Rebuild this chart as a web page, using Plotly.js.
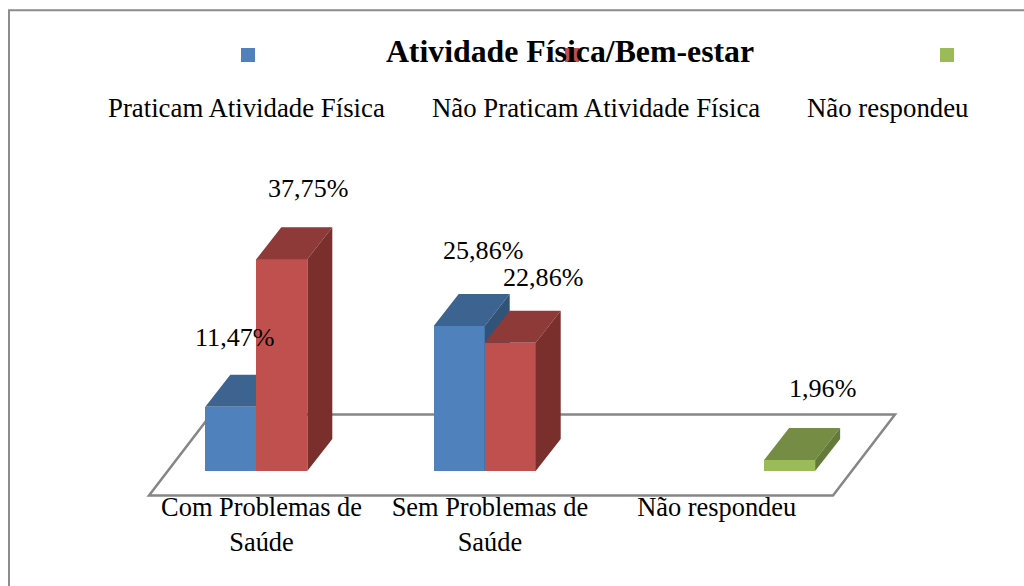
<!DOCTYPE html>
<html><head><meta charset="utf-8">
<script src="https://cdn.plot.ly/plotly-3.0.1.min.js"></script>
<style>html,body{margin:0;padding:0;background:#fff}#c{width:1024px;height:586px}</style>
</head><body><div id="c"></div>
<script>
// ---- data ----
const chartTitle = 'Atividade Física/Bem-estar';
const categories = ['Com Problemas de<br>Saúde', 'Sem Problemas de<br>Saúde', 'Não respondeu'];
const seriesNames = ['Praticam Atividade Física', 'Não Praticam Atividade Física', 'Não respondeu'];
const praticam = [11.47, 25.86, null];
const naoPraticam = [37.75, 22.86, null];
const naoRespondeu = [null, null, 1.96];

// ---- style ----
const W = 1024, H = 586;
const serif = '"Liberation Serif","Times New Roman",serif';
const frontCol = ['#4F81BD', '#C0504D', '#9BBB59'];
const topCol = ['#3D6390', '#8E3A38', '#748C43'];
const sideCol = ['#325378', '#7A2F2D', '#637A39'];
const legendSize = 26.8, tickSize = 26.4, labelSize = 26.1;
// axis geometry (pixels)
const catPx = 228.4, cat0Px = 261.5, zeroPx = 471, pctPx = 5.61, plotBottom = 530, axisPx = 489;
const barW = 51 / catPx, clusterLeft = (205.3 - cat0Px) / catPx;
const depthX = 25 / catPx, depthY = 32 / pctPx;
const floorX = 62 / catPx, floorY = 81 / pctPx, floorFront = (zeroPx - 495.5) / pctPx;
const xRange = [(0 - cat0Px) / catPx, (W - cat0Px) / catPx];
const yRange = [(zeroPx - plotBottom) / pctPx, zeroPx / pctPx];
const py = px => 1 - px / plotBottom;
const xIdx = categories.map((_, i) => i);
const tickPos = [0, 1, 1.993];
const all = [praticam, naoPraticam, naoRespondeu];
const yaxisIds = ['y', 'y2', 'y3'];

function facePath(vals, s, kind) {
  const xs = [], ys = [];
  vals.forEach((v, i) => {
    if (v === null) return;
    const l = i + clusterLeft + s * barW, r = l + barW;
    if (kind === 'top') {
      xs.push(l, r, r + depthX, l + depthX, l, null);
      ys.push(v, v, v + depthY, v + depthY, v, null);
    } else {
      xs.push(r, r + depthX, r + depthX, r, r, null);
      ys.push(0, depthY, v + depthY, v, 0, null);
    }
  });
  return {x: xs, y: ys};
}

const traces = [];
all.forEach((vals, s) => {
  traces.push({type: 'bar', name: seriesNames[s], x: xIdx, y: vals, yaxis: yaxisIds[s],
    width: barW, offset: clusterLeft + s * barW,
    marker: {color: frontCol[s], line: {width: 0}}, hoverinfo: 'y', showlegend: false});
  ['top', 'side'].forEach(kind => {
    const p = facePath(vals, s, kind);
    traces.push({type: 'scatter', mode: 'lines', x: p.x, y: p.y, yaxis: yaxisIds[s],
      fill: 'toself', fillcolor: kind === 'top' ? topCol[s] : sideCol[s],
      line: {width: 0}, hoverinfo: 'skip', showlegend: false});
  });
});

// data labels: nudge from bar centre in px
const labelNudge = [[4, 24, 0], [26.5, 33, 0], [0, 0, 33]];
const labelRise = [[69, 75, 0], [70.5, 65, 0], [0, 0, 72]];
const annotations = [];
all.forEach((vals, s) => vals.forEach((v, i) => {
  if (v === null) return;
  annotations.push({xref: 'x', yref: 'y', x: i + clusterLeft + (s + 0.5) * barW + labelNudge[s][i] / catPx,
    y: v + labelRise[s][i] / pctPx, xanchor: 'center', yanchor: 'middle', showarrow: false,
    text: v.toFixed(2).replace('.', ',') + '%', font: {family: serif, size: labelSize, color: '#000'}});
}));

// legend
const legendCx = [246.5, 596, 887], legendSq = [248, 572, 947];
const shapes = [];
seriesNames.forEach((n, s) => {
  annotations.push({xref: 'paper', yref: 'paper', x: legendCx[s] / W, y: py(108), xanchor: 'center', yanchor: 'middle',
    showarrow: false, text: n, font: {family: serif, size: legendSize, color: '#000'}});
  shapes.push({type: 'rect', xref: 'paper', yref: 'paper', x0: (legendSq[s] - 7) / W, x1: (legendSq[s] + 7) / W,
    y0: py(62), y1: py(48), fillcolor: frontCol[s], line: {width: 0}, layer: 'above'});
});

// chart frame (runs off the right and bottom of the picture)
shapes.push({type: 'rect', xref: 'paper', yref: 'paper', x0: 9 / W, x1: 1050 / W, y0: py(620), y1: py(10.3),
  fillcolor: 'rgba(0,0,0,0)', line: {color: '#8C8C8C', width: 2}, layer: 'below'});
// 3D floor, behind the bars
const fl = (149 - cat0Px) / catPx, fr = (833 - cat0Px) / catPx;
shapes.push({type: 'path', xref: 'x', yref: 'y', layer: 'below', fillcolor: 'rgba(0,0,0,0)',
  line: {color: '#868686', width: 2.5},
  path: `M${fl},${floorFront} L${fr},${floorFront} L${fr + floorX},${floorFront + floorY} L${fl + floorX},${floorFront + floorY} Z`});

const hiddenY = {range: yRange, visible: false, fixedrange: true};
const layout = {
  width: W, height: H, paper_bgcolor: '#fff', plot_bgcolor: 'rgba(0,0,0,0)',
  margin: {l: 0, r: 0, t: 0, b: H - plotBottom, pad: 0}, showlegend: false, bargap: 0,
  title: {text: '<b>' + chartTitle + '</b>', x: 570 / W, xanchor: 'center', xref: 'paper', y: 1 - 51 / H, yanchor: 'middle', yref: 'container',
    font: {family: serif, size: 31.8, color: '#000'}},
  xaxis: {range: xRange, tickmode: 'array', tickvals: tickPos, ticktext: categories, ticks: '', showgrid: false, zeroline: false,
    anchor: 'free', position: py(axisPx), showline: false, tickfont: {family: serif, size: tickSize, color: '#000'}, tickangle: 0, fixedrange: true, automargin: false},
  yaxis: Object.assign({}, hiddenY),
  yaxis2: Object.assign({overlaying: 'y'}, hiddenY),
  yaxis3: Object.assign({overlaying: 'y'}, hiddenY),
  annotations, shapes
};
Plotly.newPlot('c', traces, layout, {displayModeBar: false, responsive: false});
</script></body></html>
